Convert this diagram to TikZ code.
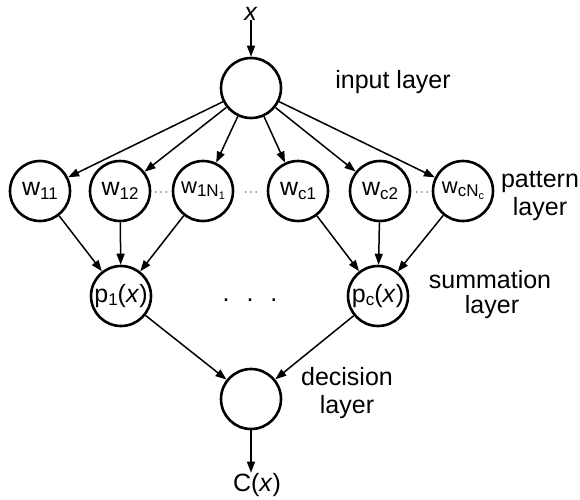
\documentclass[tikz,border=0pt]{standalone}
\usepackage{fontspec}
\setmainfont{Liberation Sans}
\usepackage{tikz}
\usetikzlibrary{arrows.meta}
\newcommand{\lsub}[1]{\raisebox{-0.25ex}{\fontsize{17}{17}\selectfont #1}}
\newcommand{\lsubb}[1]{\raisebox{-0.5ex}{\fontsize{11}{11}\selectfont #1}}
\tikzset{
  unit/.style={circle,draw,line width=2.6pt,minimum size=60pt,inner sep=0pt,font=\fontsize{25}{27}\selectfont},
  tight/.style={font=\fontsize{22}{24}\selectfont},
  lbl/.style ={font=\fontsize{25}{27}\selectfont,inner sep=0pt,anchor=base},
  dts/.style ={font=\fontsize{12}{12}\selectfont,inner sep=0pt},
  ar/.style  ={-{Triangle[length=11pt,width=8pt]},line width=1.5pt},
}
\begin{document}
\begin{tikzpicture}[x=1pt,y=-1pt]
  \useasboundingbox (0,0) rectangle (580,499);
  % input and decision units
  \node[lbl] (xin) at (251,20){\textit{x}};
  \node[unit] (in) at (251,88){};
  \node[unit] (dec) at (251,399){};
  \node[lbl] (cx) at (257,491){C(\textit{x})};
  % pattern layer, classes 1 and c
  \node[unit] (w11) at (40,191){w\lsub{11}};
  \node[unit] (w12) at (120,191){w\lsub{12}};
  \node[unit,tight] (w1n) at (203,191){w\lsub{1N}\lsubb{1}};
  \node[unit] (wc1) at (298,191){w\lsub{c1}};
  \node[unit] (wc2) at (380,191){w\lsub{c2}};
  \node[unit,tight] (wcn) at (463,191){w\lsub{cN}\lsubb{c}};
  \node[dts] (d1) at (161,193){$\cdots$};
  \node[dts] (d2) at (251,193){$\cdots$};
  \node[dts] (d3) at (422,193){$\cdots$};
  % summation layer
  \node[unit] (p1) at (121,296){p\lsub{1}(\textit{x})};
  \node[unit] (pc) at (378,296){p\lsub{c}(\textit{x})};
  \node[lbl] (d4) at (250,301){.\hspace{17pt}.\hspace{17pt}.};
  % layer names
  \node[lbl] (tin) at (393,88){input layer};
  \node[lbl] (tpat) at (540,187){pattern};
  \node[lbl] (tpat2) at (540,215){layer};
  \node[lbl] (tsum) at (490,288){summation};
  \node[lbl] (tsum2) at (492,313){layer};
  \node[lbl] (tdec) at (347,385){decision};
  \node[lbl] (tdec2) at (347,413){layer};
  % connections
  \draw[ar] (xin) -- (in);
  \foreach \n in {w11,w12,w1n,wc1,wc2,wcn} \draw[ar] (in) -- (\n);
  \foreach \n in {w11,w12,w1n} \draw[ar] (\n) -- (p1);
  \foreach \n in {wc1,wc2,wcn} \draw[ar] (\n) -- (pc);
  \draw[ar] (p1) -- (dec);
  \draw[ar] (pc) -- (dec);
  \draw[ar] (dec.south) -- (dec.south |- cx.north);
\end{tikzpicture}
\end{document}
